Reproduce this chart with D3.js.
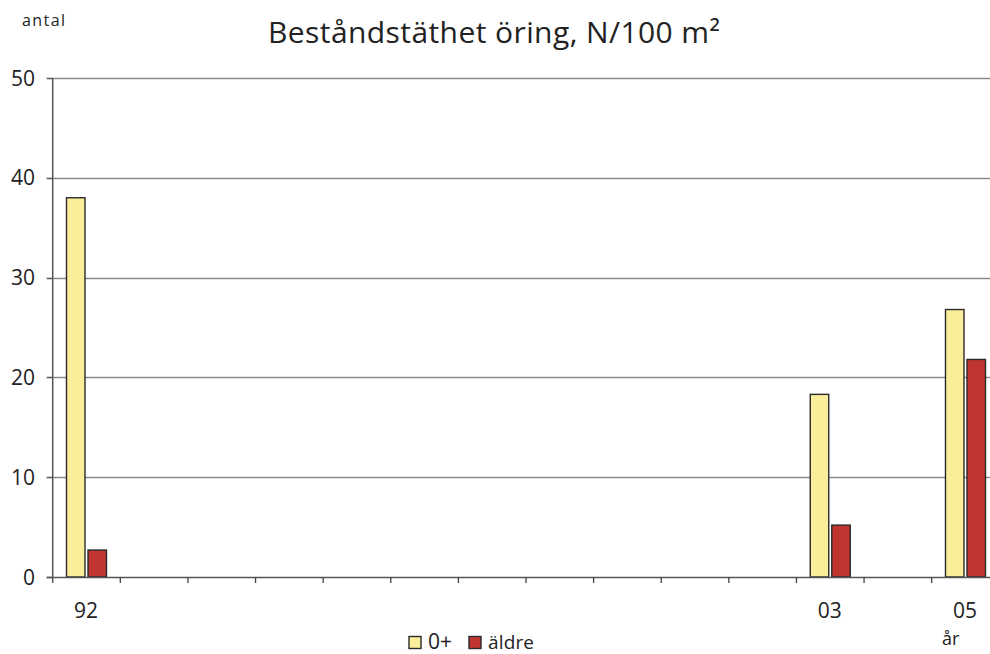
<!DOCTYPE html>
<html><head><meta charset="utf-8">
<script src="https://cdn.jsdelivr.net/npm/d3@7"></script>
<style>
html,body{margin:0;padding:0;background:#fff;overflow:hidden}
text{font-family:"Open Sans","Noto Sans",sans-serif;fill:#222}
</style></head><body>
<svg id="c" width="990" height="654"></svg>
<script>
const years = ["92","93","94","95","96","97","98","99","00","01","02","03","04","05"];
const tickLabels = ["92","","","","","","","","","","","03","","05"];
const series = ["0+","äldre"];
const young = [38.0,null,null,null,null,null,null,null,null,null,null,18.3,null,26.8];
const older = [2.7,null,null,null,null,null,null,null,null,null,null,5.2,null,21.8];
const yTicks = [0,10,20,30,40,50];
const colors = ["#FBEE9B","#C0352F"];

const svg = d3.select("#c");
const L = 52.7, R = 999.3, T = 78, B = 577;
const x = d3.scaleBand().domain(years).range([L,R]).padding(0);
const xs = d3.scaleBand().domain(series).range([13.8,53.8]).paddingInner(0.14);
const y = d3.scaleLinear().domain([0,50]).range([B,T]);

// gridlines
svg.append("g").selectAll("line").data(yTicks.filter(d=>d>0)).join("line")
  .attr("x1",L).attr("x2",R).attr("y1",d=>Math.round(y(d))+0.5).attr("y2",d=>Math.round(y(d))+0.5)
  .attr("stroke","#8a8a8a").attr("stroke-width",1.5);

// bars
const data = [young, older];
data.forEach((vals,si)=>{
  svg.append("g").selectAll("rect").data(years.map((yr,i)=>({yr,v:vals[i]})).filter(d=>d.v!=null)).join("rect")
    .attr("x",d=>x(d.yr)+xs(series[si]))
    .attr("width",xs.bandwidth())
    .attr("y",d=>y(d.v))
    .attr("height",d=>B-y(d.v))
    .attr("fill",colors[si]).attr("stroke","#2a2a2a").attr("stroke-width",1.4);
});

// y axis
svg.append("line").attr("x1",L).attr("x2",L).attr("y1",T).attr("y2",B+6).attr("stroke","#555").attr("stroke-width",1.5);
svg.append("g").selectAll("line").data(yTicks).join("line")
  .attr("x1",L-6).attr("x2",L).attr("y1",d=>Math.round(y(d))+0.5).attr("y2",d=>Math.round(y(d))+0.5)
  .attr("stroke","#555").attr("stroke-width",1.5);
svg.append("g").selectAll("text").data(yTicks).join("text")
  .attr("x",35).attr("y",d=>y(d)+7.5).attr("text-anchor","end")
  .style("font-size","21px").text(d=>d);

// x axis
svg.append("line").attr("x1",L-6).attr("x2",R).attr("y1",B+0.5).attr("y2",B+0.5).attr("stroke","#555").attr("stroke-width",1.5);
svg.append("g").selectAll("line").data(years.slice(1).concat(["end"])).join("line")
  .attr("x1",(d,i)=>L+(i+1)*x.step()).attr("x2",(d,i)=>L+(i+1)*x.step())
  .attr("y1",B).attr("y2",B+6).attr("stroke","#444").attr("stroke-width",1.3);
svg.append("g").selectAll("text").data(years).join("text")
  .attr("x",d=>x(d)+x.bandwidth()/2-0.5).attr("y",618).attr("text-anchor","middle")
  .style("font-size","21px").text((d,i)=>tickLabels[i]);

// titles
svg.append("text").attr("x",268).attr("y",43).attr("textLength",452).attr("lengthAdjust","spacing")
  .style("font-size","30px").text("Beståndstäthet öring, N/100 m²");
svg.append("text").attr("x",22).attr("y",26).attr("textLength",43).attr("lengthAdjust","spacing")
  .style("font-size","16px").text("antal");
svg.append("text").attr("x",942).attr("y",645).style("font-size","18px").text("år");

// legend
const leg = svg.append("g");
const legX = [409, 469];
const legSize = ["21px","19px"];
series.forEach((s,i)=>{
  leg.append("rect").attr("x",legX[i]).attr("y",636.5).attr("width",12).attr("height",12)
    .attr("fill",colors[i]).attr("stroke","#2a2a2a").attr("stroke-width",1.4);
  const t = leg.append("text").attr("x",legX[i]+19).attr("y",648.5).style("font-size",legSize[i]).text(s);
  if (i===1) t.attr("textLength",46).attr("lengthAdjust","spacing");
});
</script></body></html>
